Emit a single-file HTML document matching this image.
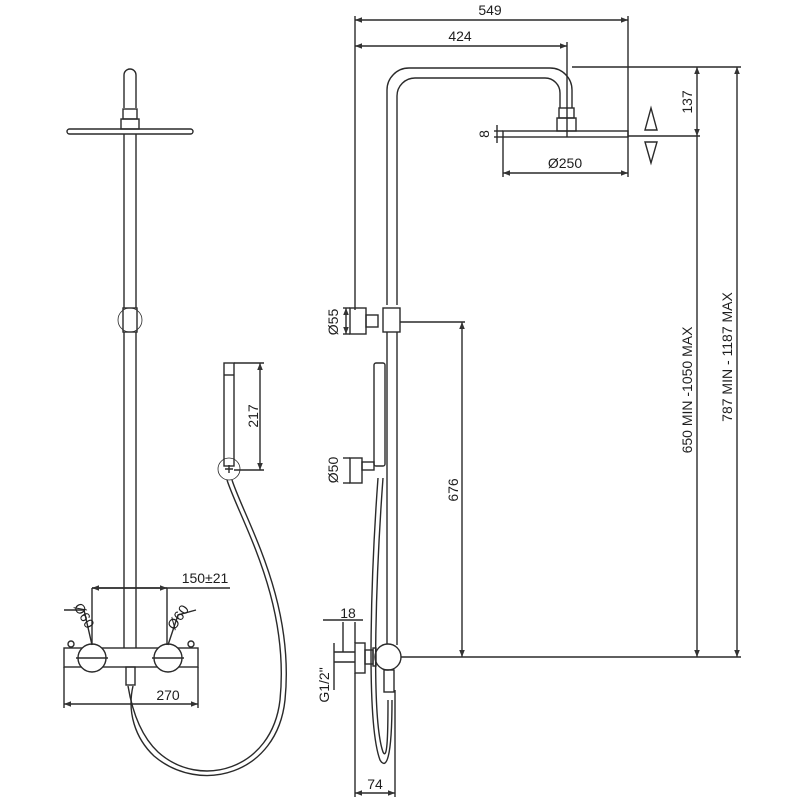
<!DOCTYPE html>
<html><head><meta charset="utf-8"><style>html,body{margin:0;padding:0;background:#fff}svg{display:block}text{font-family:"Liberation Sans",sans-serif;fill:#1e1e1e}</style></head><body>
<svg width="800" height="800" viewBox="0 0 800 800" xmlns="http://www.w3.org/2000/svg">
<defs>
<marker id="a" viewBox="0 0 10 10" refX="10" refY="5" markerWidth="7" markerHeight="5" orient="auto-start-reverse"><path d="M0,1 L10,5 L0,9 z" fill="#333"/></marker>
</defs>
<g stroke="#2a2a2a" stroke-width="1.4" fill="none">
<!-- LEFT VIEW -->
<path d="M124,108 V75 A6,6 0 0 1 136,75 V108"/>
<rect x="123" y="109" width="14" height="10"/>
<rect x="121" y="119" width="18" height="10"/>
<rect x="67" y="129" width="126" height="5" rx="2.5"/>
<line x1="124" y1="134" x2="124" y2="308"/><line x1="136" y1="134" x2="136" y2="308"/>
<circle cx="130" cy="320" r="12" stroke-width="0.8"/>
<rect x="123" y="308" width="14" height="24"/>
<line x1="124" y1="332" x2="124" y2="648"/><line x1="136" y1="332" x2="136" y2="648"/>
<rect x="64" y="648" width="134" height="19"/>
<circle cx="92" cy="658" r="14" fill="#fff"/><circle cx="168" cy="658" r="14" fill="#fff"/>
<line x1="76" y1="658" x2="108" y2="658"/><line x1="152" y1="658" x2="184" y2="658"/>
<circle cx="71" cy="644" r="3"/><circle cx="191" cy="644" r="3"/>
<rect x="126" y="667" width="9" height="18"/>
<line x1="92" y1="588" x2="230" y2="588"/>
<line x1="92" y1="588" x2="167" y2="588" marker-start="url(#a)" marker-end="url(#a)"/>
<line x1="92" y1="588" x2="92" y2="645"/><line x1="167" y1="588" x2="167" y2="645"/>
<path d="M64,610 L84,610 L92,645" /><path d="M196,610 L178,615 L168,645"/>
<line x1="64" y1="667" x2="64" y2="708"/><line x1="198" y1="667" x2="198" y2="708"/>
<line x1="64" y1="704" x2="198" y2="704" marker-start="url(#a)" marker-end="url(#a)"/>
<rect x="224" y="363" width="10" height="103"/>
<line x1="224" y1="375" x2="234" y2="375"/>
<circle cx="229" cy="469" r="11" stroke-width="0.8"/>
<path d="M225,469 h8 M229,465 v8"/>
<line x1="234" y1="363" x2="264" y2="363"/><line x1="234" y1="470" x2="264" y2="470"/>
<line x1="260" y1="363" x2="260" y2="470" marker-start="url(#a)" marker-end="url(#a)"/>
<path d="M227,480 C240,520 290,600 280,700 C272,770 200,790 158,752 C140,735 132,710 128,686"/>
<path d="M232,480 C245,520 295,600 285,700 C277,775 200,795 154,756 C135,738 127,712 133,686"/>
<!-- RIGHT VIEW -->
<path d="M387,305 V90 A22,22 0 0 1 409,68 H550 A22,22 0 0 1 572,90 V108"/>
<path d="M397,305 V96 A18,18 0 0 1 415,78 H545 A15,15 0 0 1 560,93 V108"/>
<rect x="559" y="108" width="15" height="10"/>
<rect x="557" y="118" width="19" height="13"/>
<rect x="503" y="131" width="125" height="6"/>
<line x1="355" y1="20" x2="628" y2="20" marker-start="url(#a)" marker-end="url(#a)"/>
<line x1="355" y1="46" x2="567" y2="46" marker-start="url(#a)" marker-end="url(#a)"/>
<line x1="355" y1="16" x2="355" y2="310"/>
<line x1="628" y1="16" x2="628" y2="177"/>
<line x1="567" y1="42" x2="567" y2="137"/>
<line x1="503" y1="137" x2="503" y2="177"/>
<line x1="503" y1="173" x2="628" y2="173" marker-start="url(#a)" marker-end="url(#a)"/>
<line x1="497" y1="125" x2="497" y2="143"/><line x1="494" y1="131" x2="503" y2="131"/><line x1="494" y1="137" x2="503" y2="137"/>
<line x1="572" y1="67" x2="741" y2="67"/>
<line x1="628" y1="136" x2="700" y2="136"/>
<line x1="697" y1="67" x2="697" y2="136" marker-start="url(#a)" marker-end="url(#a)"/>
<line x1="697" y1="136" x2="697" y2="657" marker-end="url(#a)"/>
<line x1="737" y1="67" x2="737" y2="657" marker-start="url(#a)" marker-end="url(#a)"/>
<line x1="397" y1="657" x2="741" y2="657"/>
<path d="M651,108 L645,130 H657 Z"/><path d="M651,163 L645,142 H657 Z"/>
<rect x="350" y="308" width="16" height="26"/>
<rect x="366" y="315" width="12" height="12"/>
<rect x="383" y="308" width="17" height="24"/>
<line x1="400" y1="322" x2="465" y2="322"/>
<line x1="343" y1="308" x2="350" y2="308"/><line x1="343" y1="334" x2="350" y2="334"/>
<line x1="346" y1="308" x2="346" y2="334" marker-start="url(#a)" marker-end="url(#a)"/>
<line x1="387" y1="332" x2="387" y2="645"/><line x1="397" y1="332" x2="397" y2="645"/>
<line x1="462" y1="322" x2="462" y2="657" marker-start="url(#a)" marker-end="url(#a)"/>
<rect x="374" y="363" width="11" height="103" rx="2"/>
<rect x="350" y="458" width="12" height="25"/>
<rect x="362" y="462" width="12" height="8"/>
<line x1="343" y1="458" x2="350" y2="458"/><line x1="343" y1="483" x2="350" y2="483"/>
<path d="M378,478 C372,560 365,720 380,760 C386,770 392,760 392,700"/>
<path d="M383,478 C377,560 370,715 383,752 C387,760 388,740 388,700"/>
<circle cx="388" cy="657" r="13" fill="#fff"/>
<rect x="355" y="643" width="10" height="30"/>
<rect x="365" y="650" width="8" height="14"/>
<rect x="373" y="648" width="3" height="18"/>
<rect x="384" y="670" width="10" height="22"/>
<line x1="334" y1="643" x2="334" y2="690"/>
<line x1="334" y1="652" x2="355" y2="652"/><line x1="334" y1="662" x2="355" y2="662"/>
<line x1="343" y1="622" x2="343" y2="652"/><line x1="355" y1="622" x2="355" y2="643"/>
<line x1="323" y1="620" x2="363" y2="620"/>
<line x1="355" y1="673" x2="355" y2="797"/><line x1="395" y1="690" x2="395" y2="797"/>
<line x1="355" y1="793" x2="395" y2="793" marker-start="url(#a)" marker-end="url(#a)"/>
</g>
<g font-size="14">
<text x="490" y="15" text-anchor="middle">549</text>
<text x="460" y="41" text-anchor="middle">424</text>
<text x="565" y="168" text-anchor="middle">Ø250</text>
<text x="205" y="583" text-anchor="middle">150±21</text>
<text x="168" y="700" text-anchor="middle">270</text>
<text x="375" y="789" text-anchor="middle">74</text>
<text x="348" y="618" text-anchor="middle">18</text>
<text transform="translate(489,134) rotate(-90)" text-anchor="middle">8</text>
<text transform="translate(692,102) rotate(-90)" text-anchor="middle">137</text>
<text transform="translate(692,390) rotate(-90)" text-anchor="middle">650 MIN -1050 MAX</text>
<text transform="translate(732,357) rotate(-90)" text-anchor="middle">787 MIN - 1187 MAX</text>
<text transform="translate(458,490) rotate(-90)" text-anchor="middle">676</text>
<text transform="translate(258,416) rotate(-90)" text-anchor="middle">217</text>
<text transform="translate(338,322) rotate(-90)" text-anchor="middle">Ø55</text>
<text transform="translate(338,470) rotate(-90)" text-anchor="middle">Ø50</text>
<text transform="translate(329,685) rotate(-90)" text-anchor="middle">G1/2"</text>
<text transform="translate(80,618) rotate(60)" text-anchor="middle">Ø60</text>
<text transform="translate(182,620) rotate(-55)" text-anchor="middle">Ø60</text>
</g>
</svg>
</body></html>
